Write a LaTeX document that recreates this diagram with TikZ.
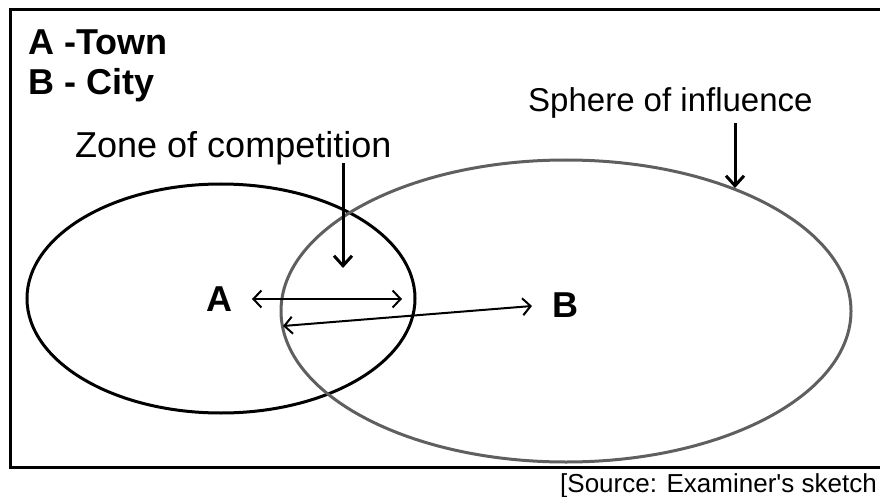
\documentclass[tikz,border=0pt]{standalone}
\usepackage{fontspec}
\setmainfont{Liberation Sans}
\usetikzlibrary{shapes.geometric,arrows.meta}
\definecolor{spheregray}{RGB}{95,95,95}
\newcommand\keyfont{\fontsize{36}{42}\selectfont}
\newcommand\zonefont{\fontsize{36}{42}\selectfont}
\newcommand\spherefont{\fontsize{33}{40}\selectfont}
\newcommand\srcfont{\fontsize{26}{30}\selectfont}
\begin{document}
\begin{tikzpicture}[x=1pt,y=-1pt,
  frameline/.style={line width=3pt},
  townshape/.style={ellipse,draw=black,line width=3pt,inner sep=0pt,outer sep=0pt},
  cityshape/.style={ellipse,draw=spheregray,line width=3pt,inner sep=0pt,outer sep=0pt},
  txt/.style={inner sep=0pt,anchor=base west},
  twoway/.style={line width=2pt,{Straight Barb[length=8pt,width=17pt]}-{Straight Barb[length=8pt,width=17pt]}},
  pointer/.style={line width=3pt,-{Straight Barb[length=10pt,width=18pt]}}
]
\path[use as bounding box] (0,0) rectangle (880,497);
\draw[frameline] (886,10) -- (10,10) -- (10,467) -- (886,467);

\node[townshape,minimum width=388pt,minimum height=229pt] (town) at (221,298.5) {};
\node[cityshape,minimum width=570pt,minimum height=302pt] (city) at (566,311) {};

\node[txt,font=\keyfont\bfseries] (keyA) at (28,55) {A -Town};
\node[txt,font=\keyfont\bfseries] (keyB) at (28,95) {B - City};
\node[txt,font=\zonefont] (zone) at (75,158) {Zone of competition};
\node[txt,font=\spherefont] (sphere) at (528,112) {Sphere of influence};
\node[txt,font=\srcfont] (source) at (560,492) {[Source: Examiner\textquotesingle s sketch};

\node[txt,font=\keyfont\bfseries] (A) at (206,311) {A};
\node[txt,font=\keyfont\bfseries] (B) at (552,317) {B};

\coordinate (zonetop) at (343,163);
\coordinate (zonetip) at (343,268);
\coordinate (spheretop) at (735,123);
\coordinate (spheretip) at (735,188);
\coordinate (aaL) at (252,299);
\coordinate (aaR) at (402,299);
\coordinate (abL) at (283,326);
\coordinate (abR) at (532,306);

\draw[pointer] (zonetop) -- (zonetip);
\draw[pointer] (spheretop) -- (spheretip);
\draw[twoway] (aaL) -- (aaR);
\draw[twoway] (abL) -- (abR);
\end{tikzpicture}
\end{document}
